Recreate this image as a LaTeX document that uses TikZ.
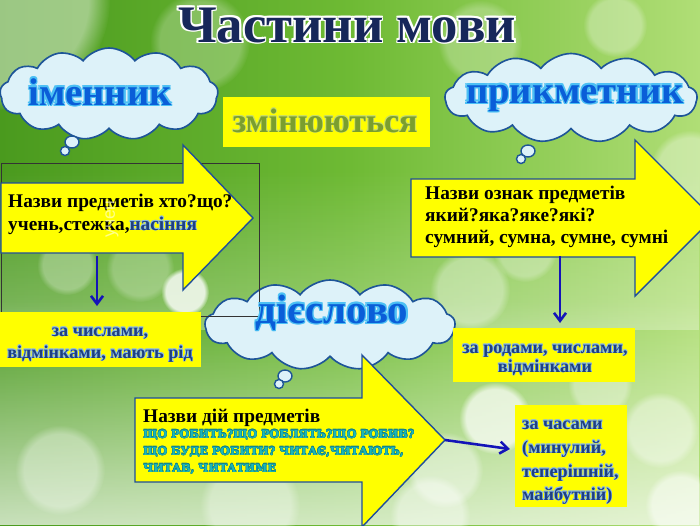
\documentclass[tikz,border=0pt]{standalone}
\usepackage{fontspec}
\usepackage{graphicx}
\setmainfont{Liberation Serif}
\newfontfamily\capsfont{DejaVu Serif}
\newfontfamily\sansf{Liberation Sans}
\usetikzlibrary{shapes.symbols,fadings,arrows.meta}

\definecolor{bgdark}{HTML}{4A9A1E}
\definecolor{bgmid}{HTML}{6EBA34}
\definecolor{bglight}{HTML}{B0DE76}
\definecolor{cloudfill}{HTML}{DDF2F9}
\definecolor{cloudline}{HTML}{1E5598}
\definecolor{arrowline}{HTML}{1F4E9B}
\definecolor{ylw}{HTML}{FFFF00}
\definecolor{wordblue}{HTML}{0A5ED8}
\definecolor{wordglow}{HTML}{4CC0F4}
\definecolor{titlenavy}{HTML}{17275A}
\definecolor{boxtext}{HTML}{1F4080}
\definecolor{boxglow}{HTML}{8CBCE8}
\definecolor{tealcaps}{HTML}{1BB8B8}
\definecolor{tealglow}{HTML}{0E7F8C}
\definecolor{olive}{HTML}{7A9E2E}
\definecolor{oliveglow}{HTML}{C8DC6A}
\definecolor{downblue}{HTML}{1414B8}

\tikzfading[name=fadeup, top color=transparent!100, bottom color=transparent!0]

\newcommand\halo[4]{%
  \begingroup
  \def\hx##1##2{\makebox[0pt][l]{\hspace*{##1}\raisebox{##2}{\color{#2}#4}}}%
  \hx{#1}{0pt}\hx{-#1}{0pt}\hx{0pt}{#1}\hx{0pt}{-#1}%
  \hx{#1}{#1}\hx{-#1}{-#1}\hx{#1}{-#1}\hx{-#1}{#1}%
  \textcolor{#3}{#4}%
  \endgroup}

\begin{document}
\begin{tikzpicture}[x=0.03cm,y=-0.03cm,
  thought/.style={cloud, cloud puffs=13, cloud puff arc=105, cloud ignores aspect,
    fill=cloudfill, draw=cloudline, line width=1.4pt, inner sep=0pt},
  bubble/.style={fill=cloudfill, draw=cloudline, line width=1.2pt},
  blockarrow/.style={fill=ylw, draw=arrowline, line width=1.2pt, line join=miter},
  ybox/.style={rectangle, fill=ylw, draw=none, inner sep=0pt},
  frame/.style={draw=black!80, line width=0.6pt},
  downarrow/.style={draw=downblue, line width=2.2pt, -{Straight Barb[length=2.4mm,width=3.6mm,line width=2.2pt]}},
  txt/.style={inner sep=0pt, anchor=base west},
  ctxt/.style={inner sep=0pt, anchor=base},
  body/.style={font=\rmfamily\fontsize{16.5}{19}\selectfont\bfseries},
  boxfont/.style={font=\rmfamily\fontsize{15.5}{18}\selectfont\bfseries},
  bokeh/.style={fill=white, path fading=circle with fuzzy edge 20 percent}
]
\useasboundingbox (0,0) rectangle (700,525);
% background
\fill[left color=bgdark, right color=bglight, middle color=bgmid] (0,0) rectangle (700,525);
\fill[white, opacity=0.7, path fading=fadeup] (0,300) rectangle (700,525);
\fill[white, opacity=0.3, path fading=fadeup] (0,170) rectangle (700,330);
\fill[bokeh, opacity=0.45] (0,0) circle (110);
\fill[bokeh, opacity=0.25] (200,42) circle (50);
\fill[bokeh, opacity=0.25] (480,42) circle (42);
\fill[bokeh, opacity=0.3] (615,25) circle (32);
\fill[bokeh, opacity=0.35] (690,170) circle (40);
\fill[bokeh, opacity=0.8] (185,292) circle (24);
\fill[bokeh, opacity=0.3] (67,265) circle (30);
\fill[bokeh, opacity=0.25] (140,268) circle (34);
\fill[bokeh, opacity=0.35] (470,290) circle (40);
\fill[bokeh, opacity=0.3] (525,250) circle (32);
\fill[bokeh, opacity=0.7] (495,418) circle (36);
\fill[bokeh, opacity=0.4] (445,470) circle (38);
\fill[bokeh, opacity=0.4] (660,430) circle (38);
\fill[bokeh, opacity=0.35] (600,385) circle (32);
\fill[bokeh, opacity=0.35] (60,470) circle (45);
\fill[bokeh, opacity=0.35] (250,505) circle (50);
\fill[bokeh, opacity=0.4] (430,515) circle (40);
\fill[bokeh, opacity=0.5] (680,505) circle (35);

% clouds
\node[thought, minimum width=6.54cm, minimum height=2.76cm] (cimen) at (109,94) {};
\draw[bubble] (72,142) ellipse (7 and 6);
\draw[bubble] (65,151) circle (4.5);
\node[thought, minimum width=7.56cm, minimum height=2.67cm] (cprik) at (571,98) {};
\draw[bubble] (528,151) ellipse (7 and 6);
\draw[bubble] (521,159) circle (4.5);
\node[thought, minimum width=7.5cm, minimum height=2.7cm] (cdies) at (330,325) {};
\draw[bubble] (285,376) ellipse (7 and 6);
\draw[bubble] (279,384) circle (4.5);

% thin frame
\draw[frame] (1,163) rectangle (259,316);

% block arrows
\draw[blockarrow] (1,183) -- (183,183) -- (183,145) -- (253,218) -- (183,290) -- (183,253) -- (1,253) -- cycle;
\draw[blockarrow] (411,179) -- (635,179) -- (635,140) -- (713,218) -- (635,296) -- (635,257) -- (411,257) -- cycle;
\draw[blockarrow] (135,398) -- (362,398) -- (362,355) -- (445,440) -- (362,527) -- (362,482) -- (135,482) -- cycle;

% yellow boxes
\node[ybox, minimum width=6.21cm, minimum height=1.5cm] (bZ) at (326.5,122) {};
\node[ybox, minimum width=6.03cm, minimum height=1.65cm] (bA) at (100.5,339.5) {};
\node[ybox, minimum width=5.46cm, minimum height=1.62cm] (bB) at (544,355) {};
\node[ybox, minimum width=3.36cm, minimum height=3.06cm] (bC) at (571,456) {};

% connectors
\coordinate (d1s) at (97,256);
\coordinate (d1e) at (97,306);
\coordinate (d2s) at (560,256);
\coordinate (d2e) at (560,323);
\coordinate (d3s) at (445,440);
\coordinate (d3e) at (510,449);
\draw[downarrow] (d1s) -- (d1e);
\draw[downarrow] (d2s) -- (d2e);
\draw[downarrow] (d3s) -- (d3e);

% title
\node[ctxt] (title) at (347,42) {\rmfamily\fontsize{45}{48}\selectfont\bfseries\halo{1.4pt}{white}{titlenavy}{Частини мови}};

% cloud words
\node[ctxt] (wimen) at (100,105) {\rmfamily\fontsize{33}{36}\selectfont\bfseries\halo{1.1pt}{wordglow}{wordblue}{іменник}};
\node[ctxt] (wprik) at (575,103) {\rmfamily\fontsize{33}{36}\selectfont\bfseries\halo{1.1pt}{wordglow}{wordblue}{прикметник}};
\node[ctxt] (wdies) at (332,323) {\rmfamily\fontsize{35}{38}\selectfont\bfseries\halo{1.1pt}{wordglow}{wordblue}{дієслово}};
\node[ctxt] (wzmin) at (325,132) {\rmfamily\fontsize{29}{32}\selectfont\bfseries\halo{0.5pt}{oliveglow}{olive}{змінюються}};

% arrow 1 text
\node[txt, body] (t1a) at (8,207) {Назви предметів хто?що?};
\node[txt, body] (t1b) at (8,230) {учень,стежка,\halo{0.5pt}{boxglow}{boxtext}{насіння}};
\node[inner sep=0pt, rotate=90, text=white, opacity=0.55, font=\sansf\fontsize{15}{17}\selectfont] (stray) at (112,219) {учен};

% arrow 2 text
\node[txt, body] (t2a) at (425,199) {Назви ознак предметів};
\node[txt, body] (t2b) at (425,221) {який?яка?яке?які?};
\node[txt, body] (t2c) at (425,243) {сумний, сумна, сумне, сумні};

% arrow 3 text
\node[txt, body] (t3a) at (143,422) {Назви дій предметів};
\node[txt, font=\capsfont\fontsize{9.5}{11}\selectfont\bfseries] (t3b) at (143,438) {\halo{0.25pt}{tealglow}{tealcaps}{ЩО РОБИТЬ?ЩО РОБЛЯТЬ?ЩО РОБИВ?}};
\node[txt, font=\capsfont\fontsize{9.5}{11}\selectfont\bfseries] (t3c) at (143,455) {\halo{0.25pt}{tealglow}{tealcaps}{ЩО БУДЕ РОБИТИ? ЧИТАЄ,ЧИТАЮТЬ,}};
\node[txt, font=\capsfont\fontsize{9.5}{11}\selectfont\bfseries] (t3d) at (143,472) {\halo{0.25pt}{tealglow}{tealcaps}{ЧИТАВ, ЧИТАТИМЕ}};

% box texts
\node[ctxt, boxfont] (bA1) at (100,336) {\halo{0.5pt}{boxglow}{boxtext}{за числами,}};
\node[ctxt, boxfont] (bA2) at (100,358) {\halo{0.5pt}{boxglow}{boxtext}{відмінками, мають рід}};
\node[ctxt, boxfont] (bB1) at (545,353) {\halo{0.5pt}{boxglow}{boxtext}{за родами, числами,}};
\node[ctxt, boxfont] (bB2) at (545,372) {\halo{0.5pt}{boxglow}{boxtext}{відмінками}};
\node[txt, boxfont] (bC1) at (522,429) {\halo{0.5pt}{boxglow}{boxtext}{за часами}};
\node[txt, boxfont] (bC2) at (522,453) {\halo{0.5pt}{boxglow}{boxtext}{(минулий,}};
\node[txt, boxfont] (bC3) at (522,477) {\halo{0.5pt}{boxglow}{boxtext}{теперішній,}};
\node[txt, boxfont] (bC4) at (522,500) {\halo{0.5pt}{boxglow}{boxtext}{майбутній)}};
\end{tikzpicture}
\end{document}
